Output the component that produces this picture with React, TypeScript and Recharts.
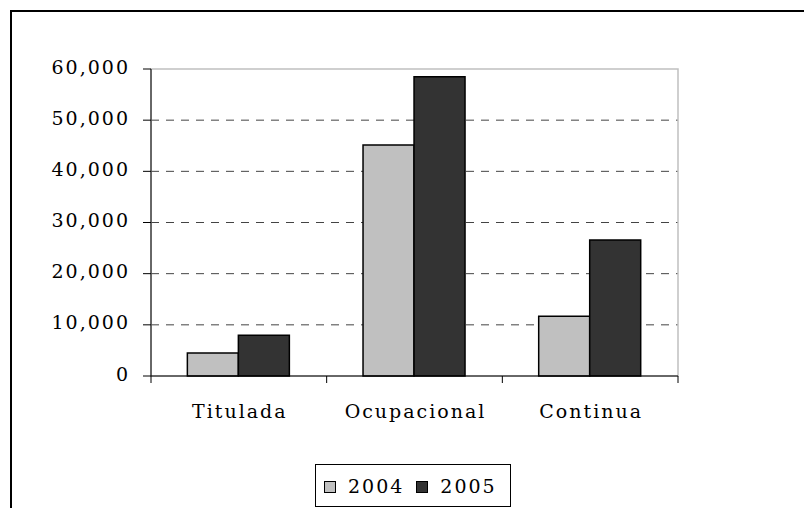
import React from 'react'
import { BarChart, Bar, XAxis, YAxis, CartesianGrid, Legend, ReferenceArea } from 'recharts'

const categories = ['Titulada', 'Ocupacional', 'Continua']
const values2004 = [4500, 45150, 11700]
const values2005 = [7950, 58500, 26600]
const yTicks = [0, 10000, 20000, 30000, 40000, 50000, 60000]
const gridValues = [10000, 20000, 30000, 40000, 50000]
const seriesNames = ['2004', '2005']
const seriesColors = ['#c0c0c0', '#333333']

const chartData = categories.map((name, i) => ({
  name,
  v2004: values2004[i],
  v2005: values2005[i],
}))

const FONT = '"DejaVu Serif", serif'

function YTick(props: any) {
  const { x, y, payload } = props
  return (
    <text
      x={x}
      y={y + 4.5}
      textAnchor="end"
      fontFamily={FONT}
      fontSize={19}
      fill="#000"
      style={{ letterSpacing: '2px' }}
    >
      {Number(payload.value).toLocaleString('en-US')}
    </text>
  )
}

function XTick(props: any) {
  const { x, y, payload, index, visibleTicksCount } = props
  const half = payload.offset ?? 87.8
  const isLast = index === (visibleTicksCount ?? categories.length) - 1
  return (
    <g>
      <line x1={x - half} y1={y} x2={x - half} y2={y + 7} stroke="#000" strokeWidth={1} />
      {isLast && <line x1={x + half} y1={y} x2={x + half} y2={y + 7} stroke="#000" strokeWidth={1} />}
      <text
        x={x + 1}
        y={y + 42}
        textAnchor="middle"
        fontFamily={FONT}
        fontSize={19}
        fill="#000"
        style={{ letterSpacing: '2px' }}
      >
        {payload.value}
      </text>
    </g>
  )
}

function LegendBox() {
  return (
    <div
      style={{
        boxSizing: 'border-box',
        width: 196,
        height: 43,
        border: '1.5px solid #000',
        background: '#fff',
        display: 'flex',
        alignItems: 'center',
        paddingLeft: 8,
        fontFamily: FONT,
        fontSize: 19,
        letterSpacing: '2px',
        color: '#000',
      }}
    >
      {seriesNames.map((name, i) => (
        <div key={name} style={{ display: 'flex', alignItems: 'center', marginRight: i === 0 ? 12 : 0 }}>
          <span
            style={{
              boxSizing: 'border-box',
              display: 'inline-block',
              width: 12,
              height: 12,
              border: '1.5px solid #000',
              background: seriesColors[i],
              marginRight: 12,
              marginTop: 2,
            }}
          />
          <span>{name}</span>
        </div>
      ))}
    </div>
  )
}

export default function App() {
  return (
    <div style={{ position: 'absolute', left: 0, top: 0, width: 804, height: 508, overflow: 'hidden', background: '#fff' }}>
      <div
        style={{
          position: 'absolute',
          left: 10,
          top: 10,
          width: 900,
          height: 600,
          borderLeft: '2px solid #000',
          borderTop: '2px solid #000',
        }}
      />
      <div style={{ position: 'absolute', left: 0, top: 0 }}>
        <BarChart
          width={804}
          height={508}
          data={chartData}
          margin={{ top: 69, right: 126, left: 0, bottom: 82 }}
          barCategoryGap="20.7%"
          barGap={0}
        >
          <ReferenceArea y1={0} y2={60000} fill="none" stroke="#c0c0c0" strokeWidth={1.5} ifOverflow="extendDomain" />
          <CartesianGrid
            horizontal
            vertical={false}
            horizontalValues={gridValues}
            stroke="#444"
            strokeDasharray="8 7"
          />
          <Bar dataKey="v2004" name={seriesNames[0]} fill={seriesColors[0]} stroke="#000" strokeWidth={1.5} isAnimationActive={false} />
          <Bar dataKey="v2005" name={seriesNames[1]} fill={seriesColors[1]} stroke="#000" strokeWidth={1.5} isAnimationActive={false} />
          <XAxis
            dataKey="name"
            height={50}
            axisLine={{ stroke: '#000', strokeWidth: 1 }}
            tickLine={false}
            tickSize={0}
            tickMargin={0}
            interval={0}
            tick={(p: any) => <XTick {...p} />}
          />
          <YAxis
            width={151}
            domain={[0, 60000]}
            ticks={yTicks}
            interval={0}
            axisLine={{ stroke: '#000', strokeWidth: 1 }}
            tickLine={{ stroke: '#000', strokeWidth: 1 }}
            tickSize={8}
            tickMargin={13}
            tick={(p: any) => <YTick {...p} />}
          />
          <Legend
            layout="horizontal"
            verticalAlign="middle"
            align="center"
            wrapperStyle={{ left: 315, top: 464, width: 196, height: 43 }}
            content={() => <LegendBox />}
          />
        </BarChart>
      </div>
    </div>
  )
}
